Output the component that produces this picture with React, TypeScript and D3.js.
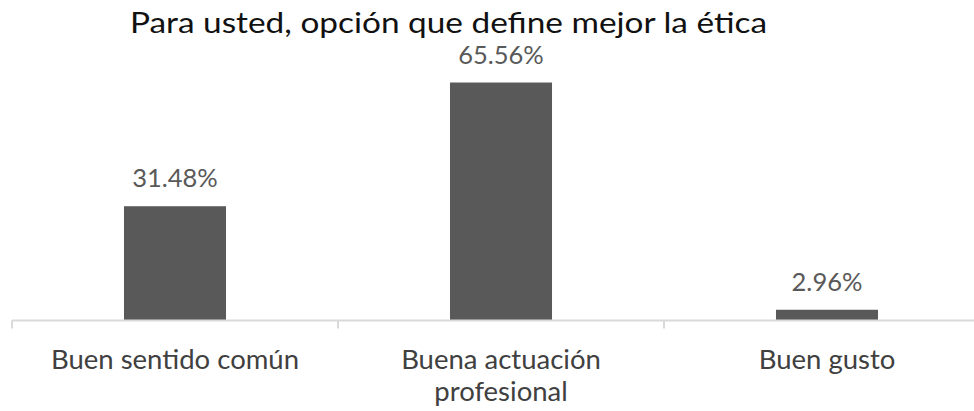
import React from "react";
import * as d3 from "d3";

const title = "Para usted, opción que define mejor la ética";
const categories = ["Buen sentido común", "Buena actuación profesional", "Buen gusto"];
const categoryLines = [["Buen sentido común"], ["Buena actuación", "profesional"], ["Buen gusto"]];
const values = [31.48, 65.56, 2.96];

const W = 974;
const H = 411;
const FONT = "Lato, 'Open Sans', sans-serif";

export default function App() {
  const baseY = 320.5;
  const x = d3
    .scaleBand<string>()
    .domain(categories)
    .range([12, 990])
    .paddingInner(0.687)
    .paddingOuter(0.3435);
  const y = d3.scaleLinear().domain([0, 70]).range([baseY, baseY - 70 * 3.63]);
  const step = x.step();
  const tickXs = d3.range(categories.length + 1).map((i) => 12 + i * step);

  return (
    <svg
      width={W}
      height={H}
      viewBox={`0 0 ${W} ${H}`}
      style={{ position: "absolute", left: 0, top: 0, background: "#fff" }}
    >
      <text
        x={448.5}
        y={33}
        textAnchor="middle"
        fontFamily={FONT}
        fontSize={29}
        fontWeight={400}
        fill="#111"
        textLength={637}
        lengthAdjust="spacingAndGlyphs"
      >
        {title}
      </text>

      {categories.map((c, i) => (
        <rect
          key={c}
          x={x(c)}
          y={y(values[i])}
          width={x.bandwidth()}
          height={baseY - y(values[i])}
          fill="#595959"
        />
      ))}

      <line x1={12} x2={990} y1={baseY} y2={baseY} stroke="#d9d9d9" strokeWidth={2} />
      {tickXs.map((tx, i) => (
        <line key={i} x1={tx} x2={tx} y1={baseY} y2={baseY + 8} stroke="#d9d9d9" strokeWidth={2} />
      ))}

      {categories.map((c, i) => (
        <text
          key={c + "v"}
          x={(x(c) as number) + x.bandwidth() / 2}
          y={y(values[i]) - 19}
          textAnchor="middle"
          fontFamily={FONT}
          fontSize={25.5}
          fill="#595959"
        >
          {values[i].toFixed(2) + "%"}
        </text>
      ))}

      {categories.map((c, i) =>
        categoryLines[i].map((line, j) => (
          <text
            key={c + j}
            x={(x(c) as number) + x.bandwidth() / 2}
            y={368.5 + j * 32}
            textAnchor="middle"
            fontFamily={FONT}
            fontSize={27.5}
            fill="#404040"
          >
            {line}
          </text>
        ))
      )}
    </svg>
  );
}
